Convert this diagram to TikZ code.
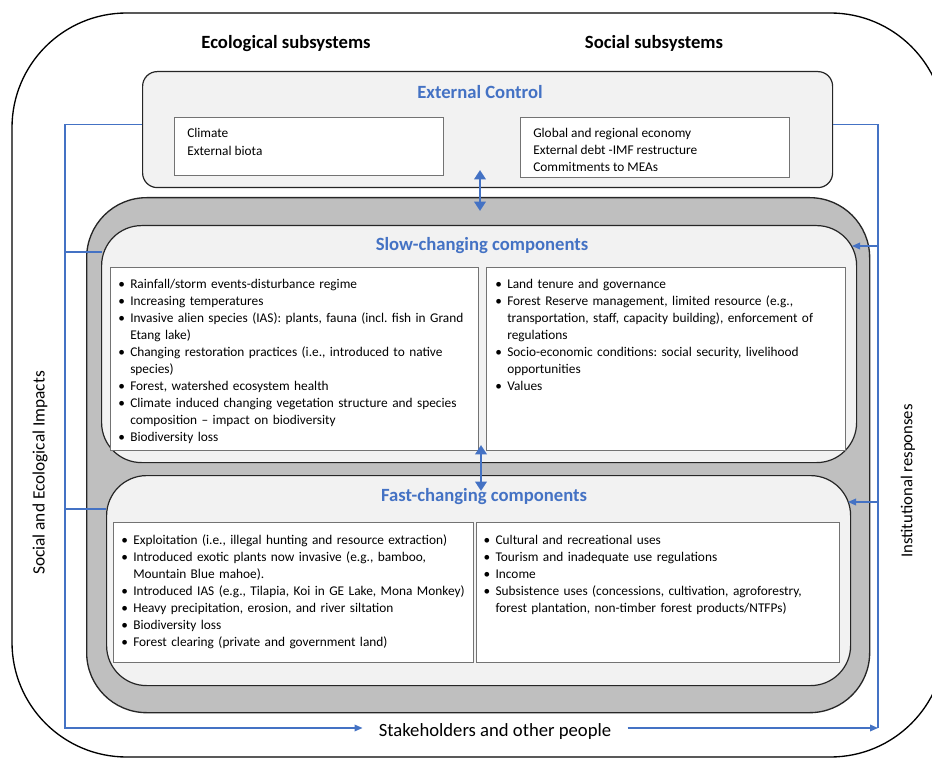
\documentclass[tikz,border=0pt]{standalone}
\usepackage{fontspec}
\setmainfont{Carlito}
\usetikzlibrary{arrows.meta,positioning}
\definecolor{linkblue}{HTML}{4472C4}
\definecolor{panelgray}{HTML}{F2F2F2}
\definecolor{ringgray}{HTML}{BFBFBF}
\frenchspacing
\newcommand\itm[1]{\par\hangindent=9pt\hangafter=1\noindent\makebox[9pt][l]{\textbullet}#1}

\begin{document}
\begin{tikzpicture}[x=0.75pt,y=-0.75pt,
    panel/.style={draw=black!85,line width=0.9pt,fill=panelgray,rounded corners=30pt,anchor=north west},
    listbox/.style={draw=black!55,line width=0.7pt,fill=white,anchor=north west},
    listtxt/.style={inner sep=0pt,anchor=north west,align=left,font=\fontsize{10}{12.75}\selectfont},
    head/.style={font=\fontsize{14}{16}\selectfont\bfseries},
    title/.style={font=\fontsize{14}{16}\selectfont\bfseries,text=linkblue},
    side/.style={font=\fontsize{13}{15}\selectfont},
    fb/.style={draw=linkblue,line width=0.9pt},
    tip/.style={-{Triangle[length=6pt,width=5pt]}},
    twoway/.style={draw=linkblue,line width=2.2pt,{Triangle[length=7pt,width=8.5pt]}-{Triangle[length=7pt,width=8.5pt]}}]

    \useasboundingbox (0,0) rectangle (932,759);
    \fill[white] (0,0) rectangle (932,759);

    % outer frame of the system
    \draw[line width=1pt,rounded corners=86pt] (12,13) rectangle (945,757);

    \node[head] (eco) at (286,44) {Ecological subsystems};
    \node[head] (soc) at (654,43) {Social subsystems};

    % external control
    \node[panel,rounded corners=11pt,minimum width=517.5pt,minimum height=87pt] (ext) at (142,71) {};
    \node[title] (extT) at (480,92) {External Control};
    \node[listbox,minimum width=201.75pt,minimum height=43.5pt] (extEco) at (174,117) {};
    \node[listbox,minimum width=201.75pt,minimum height=45pt] (extSoc) at (520,117) {};
    \node[listtxt,font=\fontsize{10}{13.5}\selectfont,below right=8.25pt and 9.75pt of extEco.north west] (extEcoTxt)
        {Climate\\External biota};
    \node[listtxt,below right=8.25pt and 9.75pt of extSoc.north west] (extSocTxt)
        {Global and regional economy\\External debt -IMF restructure\\Commitments to MEAs};

    % grey ring round the two component panels
    \node[draw=black!85,line width=1pt,fill=ringgray,rounded corners=45pt,anchor=north west,
        minimum width=587.25pt,minimum height=386.25pt] (ring) at (86,197) {};

    % slow-changing components
    \node[panel,minimum width=566.25pt,minimum height=177.75pt] (slow) at (101,225) {};
    \node[title] (slowT) at (482,246) {Slow-changing components};
    \node[listbox,minimum width=276pt,minimum height=137.25pt] (slowEco) at (110,267) {};
    \node[listbox,minimum width=269.25pt,minimum height=137.25pt] (slowSoc) at (486,267) {};
    \node[listtxt,text width=262pt,below right=3.25pt and 6pt of slowEco.north west] (slowEcoTxt) {%
        \itm{Rainfall/storm events-disturbance regime}
        \itm{Increasing temperatures}
        \itm{Invasive alien species (IAS): plants, fauna (incl. fish in Grand\newline Etang lake)}
        \itm{Changing restoration practices (i.e., introduced to native\newline species)}
        \itm{Forest, watershed ecosystem health}
        \itm{Climate induced changing vegetation structure and species\newline composition -- impact on biodiversity}
        \itm{Biodiversity loss}\par};
    \node[listtxt,text width=256pt,below right=3.25pt and 6.75pt of slowSoc.north west] (slowSocTxt) {%
        \itm{Land tenure and governance}
        \itm{Forest Reserve management, limited resource (e.g.,\newline transportation, staff, capacity building), enforcement of\newline regulations}
        \itm{Socio-economic conditions: social security, livelihood\newline opportunities}
        \itm{Values}\par};

    % fast-changing components
    \node[panel,minimum width=558pt,minimum height=157.5pt] (fast) at (106,475) {};
    \node[title] (fastT) at (484,497) {Fast-changing components};
    \node[listbox,minimum width=270pt,minimum height=105pt] (fastEco) at (113,522) {};
    \node[listbox,minimum width=272.25pt,minimum height=105pt] (fastSoc) at (476,522) {};
    \node[listtxt,text width=258pt,below right=4pt and 6pt of fastEco.north west] (fastEcoTxt) {%
        \itm{Exploitation (i.e., illegal hunting and resource extraction)}
        \itm{Introduced exotic plants now invasive (e.g., bamboo,\newline Mountain Blue mahoe).}
        \itm{Introduced IAS (e.g., Tilapia, Koi in GE Lake, Mona Monkey)}
        \itm{Heavy precipitation, erosion, and river siltation}
        \itm{Biodiversity loss}
        \itm{Forest clearing (private and government land)}\par};
    \node[listtxt,text width=262pt,below right=4pt and 5.5pt of fastSoc.north west] (fastSocTxt) {%
        \itm{Cultural and recreational uses}
        \itm{Tourism and inadequate use regulations}
        \itm{Income}
        \itm{Subsistence uses (concessions, cultivation, agroforestry,\newline forest plantation, non-timber forest products/NTFPs)}\par};

    % two-way links between the levels
    \coordinate (extLo) at (480,170);
    \coordinate (slowHi) at (480,211);
    \coordinate (slowLo) at (481,445);
    \coordinate (fastHi) at (481,491);
    \draw[twoway] (extLo) -- (slowHi);
    \draw[twoway] (slowLo) -- (fastHi);

    % feedback loop
    \node[font=\fontsize{14}{16}\selectfont,inner xsep=12pt] (stake) at (495,732) {Stakeholders and other people};
    \node[side,rotate=90] (impact) at (40,473) {Social and Ecological Impacts};
    \node[side,font=\fontsize{12.5}{15}\selectfont,rotate=90] (resp) at (908,481) {Institutional responses};

    \coordinate (impBase) at (65,728);
    \coordinate (respBase) at (878,728);
    \coordinate (impS) at (102,252);
    \coordinate (impF) at (106,509);
    \coordinate (respS) at (852,246);
    \coordinate (respF) at (848,502);

    \draw[fb,tip] ([yshift=3.75pt]ext.west) -| (impBase) -- (impBase -| stake.west);
    \draw[fb] (impS) -- (impS -| impBase);
    \draw[fb] (impF) -- (impF -| impBase);
    \draw[fb,tip] (respBase -| stake.east) -- (respBase);
    \draw[fb] (respBase) |- ([yshift=3.75pt]ext.east);
    \draw[fb,tip] (respS -| respBase) -- (respS);
    \draw[fb,tip] (respF -| respBase) -- (respF);
\end{tikzpicture}
\end{document}
